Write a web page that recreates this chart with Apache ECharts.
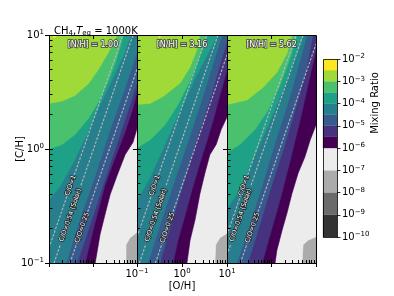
<!DOCTYPE html>
<html><head><meta charset="utf-8">
<script src="https://cdn.jsdelivr.net/npm/echarts@6.0.0/dist/echarts.min.js"></script>
<style>html,body{margin:0;padding:0;background:#fff;overflow:hidden}#chart{width:394px;height:296px}</style>
</head><body><div id="chart"></div>
<script>
// ---- data (log10 space: u = log10 [O/H], v = log10 [C/H]) ----
const thresholds = [-7, -6, -5.5, -5, -4.5, -4, -3.5, -3, -2.5];
const fillColors = ['#ececec', '#440154', '#46327e', '#365c8d', '#277f8e', '#1fa187', '#4ac16d', '#a0da39', '#fde725'];
const baseColor = '#ababab';
const cbLevels = [-10, -9, -8, -7, -6, -5.5, -5, -4.5, -4, -3.5, -3, -2.5, -2];
const cbColors = ['#333333', '#6b6b6b', '#ababab', '#ececec', '#440154', '#46327e', '#365c8d', '#277f8e', '#1fa187', '#4ac16d', '#a0da39', '#fde725'];
const nhLabels = ['[N/H] = 1.00', '[N/H] = 3.16', '[N/H] = 5.62'];
const coLabels = ['C/O=1', 'C/O=0.54 (Solar)', 'C/O=0.25'];
const coLabelV = [-0.32, -0.58, -0.69];
const majorExps = [-1, 0, 1];
const minorVals = [0.2, 0.3, 0.4, 0.5, 0.6, 0.7, 0.8, 0.9, 2, 3, 4, 5, 6, 7, 8, 9];

// contour boundaries (one polyline per threshold, region above is upper-left)
const p1Bounds = [
  [[0.75,-1],[0.75,-0.84],[0.84,-0.78],[1,-0.73]],
  [[0.05,-1],[0.16,-0.75],[0.27,-0.58],[0.39,-0.40],[0.55,-0.23],[0.73,-0.05],[0.91,0.06],[1,0.18]],
  [[-0.18,-1],[0.05,-0.64],[0.27,-0.32],[0.5,-0.08],[0.73,0.15],[0.91,0.36],[1,0.5]],
  [[-0.36,-1],[-0.07,-0.67],[0.27,-0.27],[0.61,0.12],[0.91,0.47],[1,0.58]],
  [[-0.61,-1],[-0.3,-0.62],[0.05,-0.23],[0.39,0.17],[0.73,0.54],[1,0.85]],
  [[-1,-0.45],[-0.75,-0.33],[-0.45,-0.12],[-0.15,0.12],[0.15,0.38],[0.45,0.62],[0.7,0.83],[0.86,1]],
  [[-1,0],[-0.7,0.04],[-0.4,0.13],[-0.1,0.27],[0.15,0.43],[0.35,0.6],[0.52,0.77],[0.62,0.9],[0.68,1]],
  [[-1,0.40],[-0.7,0.42],[-0.41,0.47],[-0.11,0.57],[0.11,0.69],[0.34,0.84],[0.55,1]],
  [[-0.95,1],[-0.88,0.975],[-0.8,1]]
];
const p2Bounds = [
  [[0.73,-1],[0.75,-0.84],[0.84,-0.78],[1,-0.74]],
  [[0.11,-1],[0.18,-0.8],[0.29,-0.62],[0.4,-0.39],[0.51,-0.21],[0.62,-0.05],[0.76,0.04],[0.87,0.17],[1,0.28]],
  [[-0.2,-1],[-0.09,-0.8],[0.07,-0.58],[0.22,-0.36],[0.4,-0.12],[0.56,0.08],[0.69,0.25],[0.84,0.47],[1,0.69]],
  [[-0.49,-1],[-0.31,-0.75],[-0.11,-0.49],[0.09,-0.23],[0.29,0.04],[0.51,0.3],[0.69,0.52],[0.84,0.74],[1,0.94]],
  [[-0.76,-1],[-0.49,-0.67],[-0.16,-0.27],[0.18,0.12],[0.51,0.52],[0.89,1]],
  [[-1,-0.45],[-0.71,-0.25],[-0.38,0.04],[-0.04,0.34],[0.29,0.62],[0.62,0.87],[0.8,1]],
  [[-1,0.01],[-0.71,0.08],[-0.38,0.21],[-0.09,0.39],[0.18,0.6],[0.4,0.82],[0.56,1]],
  [[-1,0.39],[-0.71,0.40],[-0.42,0.46],[-0.04,0.58],[0.18,0.72],[0.33,0.87],[0.4,1]],
  [[-0.55,1],[-0.5,0.975],[-0.45,1]]
];
const p3Bounds = [
  [[0.685,-1],[0.71,-0.84],[0.82,-0.8],[1,-0.77]],
  [[0.08,-1],[0.12,-0.89],[0.24,-0.71],[0.35,-0.56],[0.46,-0.39],[0.6,-0.21],[0.75,-0.07],[0.87,0.08],[1,0.21]],
  [[-0.21,-1],[-0.03,-0.75],[0.19,-0.45],[0.42,-0.1],[0.64,0.25],[0.82,0.56],[1,0.87]],
  [[-0.53,-1],[-0.3,-0.71],[-0.03,-0.36],[0.26,-0.01],[0.53,0.34],[0.78,0.69],[0.93,1]],
  [[-0.78,-1],[-0.53,-0.71],[-0.21,-0.32],[0.1,0.08],[0.42,0.47],[0.8,1]],
  [[-1,-0.52],[-0.71,-0.36],[-0.37,-0.05],[-0.03,0.25],[0.3,0.56],[0.6,0.87],[0.73,1]],
  [[-1,-0.03],[-0.71,0.04],[-0.37,0.17],[-0.08,0.34],[0.19,0.56],[0.42,0.8],[0.57,1]],
  [[-1,0.39],[-0.55,0.43],[-0.19,0.54],[0.12,0.67],[0.35,0.84],[0.46,1]],
  [[-1,0.985],[-0.96,1]]
];
// C/O lines: [u0, v0, u1, v1]
const p1Lines = [[-1,-0.868,0.68,1],[-0.886,-1,0.91,1],[-0.523,-1,1,0.70]];
const p2Lines = [[-1,-0.772,0.556,1],[-0.947,-1,0.8,1],[-0.591,-1,1,0.825]];
const p3Lines = [[-1,-0.754,0.551,1],[-1,-0.93,0.708,1],[-0.699,-1,1,0.921]];

// ---- chart ----
const FONT = 'DejaVu Sans';
const chart = echarts.init(document.getElementById('chart'), null, {renderer: 'canvas'});
const expLabel = v => '{b|10}{s|' + (v < 0 ? '\u2212' + (-v) : v) + '}';
const labelRich = {
  b: {fontSize: 10, fontFamily: FONT, color: '#000', lineHeight: 12},
  s: {fontSize: 7, fontFamily: FONT, color: '#000', lineHeight: 6, verticalAlign: 'top'}
};
const minorLog = minorVals.map(m => Math.log10(m));
const panelsCfg = [
  {left: 49, width: 88, bounds: p1Bounds, lines: p1Lines, nh: nhLabels[0]},
  {left: 137, width: 90, bounds: p2Bounds, lines: p2Lines, nh: nhLabels[1]},
  {left: 227, width: 89, bounds: p3Bounds, lines: p3Lines, nh: nhLabels[2]}
];

function buildPoly(pts) {
  const E = 1.4, out = [];
  const f = pts[0], l = pts[pts.length - 1];
  if (f[1] <= -0.999) out.push([-E, -E], [f[0], -E]);
  else if (f[0] <= -0.999) out.push([-E, f[1]]);
  else if (f[1] >= 0.999) out.push([f[0], E]);
  pts.forEach(p => out.push(p));
  if (l[1] >= 0.999) out.push([l[0], E]);
  else if (l[0] >= 0.999) out.push([E, l[1]], [E, E]);
  out.push([-E, E]);
  return out;
}
const clipOf = cs => ({type: 'rect', shape: {x: cs.x, y: cs.y, width: cs.width, height: cs.height}});
const R = x => Math.round(x) + 0.5;

function contourRender(bounds) {
  return function (params, api) {
    const k = api.value(0);
    const cs = params.coordSys;
    if (k === 0) return {type: 'rect', shape: {x: cs.x, y: cs.y, width: cs.width, height: cs.height}, style: {fill: baseColor}};
    const pts = buildPoly(bounds[k - 1]).map(p => api.coord(p));
    const col = fillColors[k - 1];
    return {type: 'polygon', shape: {points: pts}, style: {fill: col, stroke: col, lineWidth: 0.6}, clipPath: clipOf(cs)};
  };
}
function lineRender(params, api) {
  const cs = params.coordSys;
  const u0 = api.value(0), v0 = api.value(1), u1 = api.value(2), v1 = api.value(3);
  const a = api.coord([u0, v0]), b = api.coord([u1, v1]);
  const i = params.dataIndex;
  const lv = coLabelV[i];
  const t = (lv - v0) / (v1 - v0);
  const c = api.coord([u0 + t * (u1 - u0), lv]);
  const dx = b[0] - a[0], dy = b[1] - a[1], len = Math.hypot(dx, dy);
  const ux = dx / len, uy = dy / len;
  const half = coLabels[i].length * 1.85 + 2;
  const ls = {stroke: '#b8b8b8', lineWidth: 1.1, lineDash: [2.5, 1.5], fill: null};
  return {type: 'group', clipPath: clipOf(cs), children: [
    {type: 'polyline', shape: {points: [a, [c[0] - ux * half, c[1] - uy * half]]}, style: ls},
    {type: 'polyline', shape: {points: [[c[0] + ux * half, c[1] + uy * half], b]}, style: ls},
    {type: 'text', x: c[0], y: c[1], rotation: Math.atan2(-dy, dx),
     style: {text: coLabels[i], x: 0, y: 0, align: 'center', verticalAlign: 'middle', fill: '#fff', stroke: '#222', lineWidth: 1.5, font: '6.5px "DejaVu Sans"'}}
  ]};
}
function frameRender(nh) {
  return function (params, api) {
    const cs = params.coordSys;
    const c = api.coord([0, 0.91]);
    return {type: 'group', children: [
      {type: 'rect', shape: {x: R(cs.x), y: R(cs.y), width: Math.round(cs.width), height: Math.round(cs.height)}, style: {fill: null, stroke: '#000', lineWidth: 1}},
      {type: 'text', style: {text: nh, x: c[0], y: c[1], align: 'center', verticalAlign: 'middle', fill: '#fff', stroke: '#444', lineWidth: 1.6, font: '8px "DejaVu Sans"'}}
    ]};
  };
}
function cbRender(params, api) {
  const i = api.value(0);
  const cs = params.coordSys;
  const p0 = api.coord([0, cbLevels[i]]), p1 = api.coord([1, cbLevels[i + 1]]);
  const children = [{type: 'rect', shape: {x: p0[0], y: p1[1], width: p1[0] - p0[0], height: p0[1] - p1[1]}, style: {fill: cbColors[i], stroke: cbColors[i], lineWidth: 0.3}}];
  if (i === cbColors.length - 1) children.push({type: 'rect', shape: {x: R(cs.x), y: R(cs.y), width: Math.round(cs.width), height: Math.round(cs.height)}, style: {fill: null, stroke: '#000', lineWidth: 0.8}});
  return {type: 'group', children};
}

const grids = panelsCfg.map(p => ({left: p.left, top: 35, width: p.width, height: 228}));
grids.push({left: 323, top: 59, width: 14, height: 178});

const tickStyle = {color: '#000', width: 1};
const xAxes = [], yAxes = [];
panelsCfg.forEach((p, i) => {
  const base = {type: 'value', gridIndex: i, min: -1, max: 1, interval: 1, z: 10, axisLine: {show: false, onZero: false}, splitLine: {show: false}};
  xAxes.push(Object.assign({}, base, {position: 'bottom',
    axisTick: {show: true, customValues: minorLog, inside: true, length: 3, lineStyle: tickStyle},
    axisLabel: {show: i === 1, formatter: expLabel, rich: labelRich, margin: 5, hideOverlap: false, showMinLabel: true, showMaxLabel: true}}));
  xAxes.push(Object.assign({}, base, {position: 'bottom', axisLabel: {show: false},
    axisTick: {show: true, customValues: majorExps, inside: false, length: 4, lineStyle: tickStyle}}));
  xAxes.push(Object.assign({}, base, {position: 'bottom', axisLabel: {show: false},
    axisTick: {show: true, customValues: majorExps, inside: true, length: 4, lineStyle: tickStyle}}));
  xAxes.push(Object.assign({}, base, {position: 'top', axisLabel: {show: false},
    axisTick: {show: true, customValues: [0], inside: true, length: 4, lineStyle: tickStyle}}));
  yAxes.push(Object.assign({}, base, {position: 'left',
    axisTick: {show: true, customValues: minorLog, inside: true, length: 3.5, lineStyle: tickStyle},
    axisLabel: {show: i === 0, formatter: expLabel, rich: labelRich, margin: 5, showMinLabel: true, showMaxLabel: true}}));
  yAxes.push(Object.assign({}, base, {position: 'left', axisLabel: {show: false},
    axisTick: {show: true, customValues: majorExps, inside: false, length: 4, lineStyle: tickStyle}}));
  yAxes.push(Object.assign({}, base, {position: 'left', axisLabel: {show: false},
    axisTick: {show: true, customValues: majorExps, inside: true, length: 4, lineStyle: tickStyle}}));
});
xAxes.push({type: 'value', gridIndex: 3, min: 0, max: 1, show: false});
yAxes.push({
  type: 'value', gridIndex: 3, min: -10, max: -2, interval: 1, position: 'right', z: 10,
  axisLine: {show: false, onZero: false}, splitLine: {show: false},
  axisTick: {show: true, length: 3.5, lineStyle: {color: '#000', width: 0.8}},
  axisLabel: {formatter: expLabel, rich: labelRich, margin: 5, showMinLabel: true, showMaxLabel: true}
});

const series = [];
panelsCfg.forEach((p, i) => {
  const xi = 4 * i, yi = 3 * i;
  series.push({type: 'custom', xAxisIndex: xi, yAxisIndex: yi, silent: true, z: 1,
    data: [0, 1, 2, 3, 4, 5, 6, 7, 8, 9].map(k => [k]), renderItem: contourRender(p.bounds)});
  series.push({type: 'custom', xAxisIndex: xi, yAxisIndex: yi, silent: true, z: 2,
    data: p.lines, renderItem: lineRender});
  series.push({type: 'custom', xAxisIndex: xi, yAxisIndex: yi, silent: true, z: 3,
    data: [[0]], renderItem: frameRender(p.nh)});
});
series.push({type: 'custom', xAxisIndex: 12, yAxisIndex: 9, silent: true, z: 1,
  data: cbColors.map((c, i) => [i]), renderItem: cbRender});

chart.setOption({
  animation: false,
  backgroundColor: '#fff',
  title: {
    left: 49, top: 20,
    text: '{n|CH}{sub|4}{n|,}{it|T}{sub|eq}{n| = 1000K}',
    textStyle: {fontWeight: 'normal', rich: {
      n: {fontSize: 10, fontFamily: FONT, color: '#000', fontWeight: 'normal', lineHeight: 12},
      it: {fontSize: 10, fontFamily: FONT, color: '#000', fontWeight: 'normal', fontStyle: 'italic', lineHeight: 12},
      sub: {fontSize: 7, fontFamily: FONT, color: '#000', fontWeight: 'normal', lineHeight: 7, verticalAlign: 'bottom'}
    }}
  },
  grid: grids, xAxis: xAxes, yAxis: yAxes, series,
  graphic: [
    {type: 'text', x: 20, y: 149, rotation: Math.PI / 2, style: {text: '[C/H]', x: 0, y: 0, align: 'center', verticalAlign: 'middle', fill: '#000', font: '10px "DejaVu Sans"'}},
    {type: 'text', x: 182, y: 286, style: {text: '[O/H]', x: 0, y: 0, align: 'center', verticalAlign: 'middle', fill: '#000', font: '10px "DejaVu Sans"'}},
    {type: 'text', x: 375, y: 103, rotation: Math.PI / 2, style: {text: 'Mixing Ratio', x: 0, y: 0, align: 'center', verticalAlign: 'middle', fill: '#000', font: '10px "DejaVu Sans"'}}
  ]
});
</script>
</body></html>
